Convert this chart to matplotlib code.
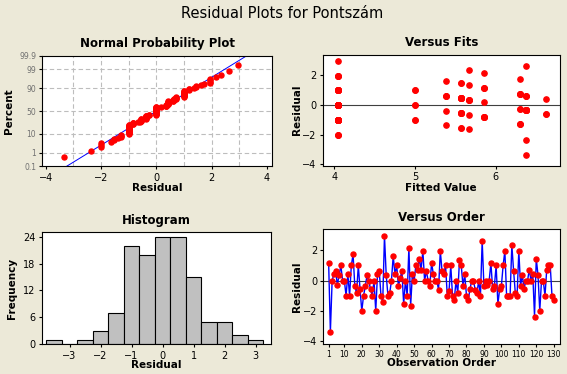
import numpy as np
import matplotlib
matplotlib.use("Agg")
import matplotlib.pyplot as plt
from statistics import NormalDist

# ---------------- data ----------------
residuals = [
    1.17, -3.36, 0.00, 0.44, 0.62, -0.27, 0.35, 1.00, 0.00, 0.00,
    -1.00, 0.44, -1.00, 1.00, 1.73, -0.36, -0.83, 1.00, -0.56, -2.00,
    -1.00, -0.38, 0.35, 0.00, -0.56, -1.00, 0.00, -2.00, 0.44, 0.62,
    -1.00, -1.38, 2.96, 0.35, -1.00, -0.83, 0.00, 1.62, 0.44, 1.00,
    -0.36, 0.17, 0.64, -1.55, 0.00, -1.00, 2.17, -1.65, 0.44, 0.00,
    1.00, 0.73, 1.45, 0.73, 1.96, 0.00, 0.64, 0.00, -0.36, 1.17,
    0.44, 0.00, 0.00, -0.60, 1.96, 0.62, 0.44, 1.00, -1.00, -0.65,
    1.00, -1.00, -1.27, 0.00, -0.83, 1.35, 1.00, -0.36, 0.44, -1.00,
    -1.27, -0.56, 0.00, 0.00, -0.60, -0.83, 0.00, -1.00, 2.64, -0.36,
    0.00, -0.27, 0.00, 1.17, -0.56, -0.36, 1.00, -1.55, -0.56, -0.36,
    1.00, 1.96, -1.00, -1.00, -1.00, 2.35, 0.64, -0.83, -1.00, 1.96,
    -0.36, 0.40, -0.56, 0.00, 0.00, 0.73, 0.00, 0.44, -2.36, 1.45,
    0.35, -2.00, 0.00, 0.00, -1.00, 0.73, 1.00, 1.00, -1.00, -1.27,
]

fitted = [
    5.86, 6.38, 5.00, 5.57, 5.38, 6.30, 5.67, 5.00, 4.04, 4.04,
    5.00, 5.57, 4.04, 4.04, 6.30, 6.38, 5.86, 4.04, 5.57, 4.04,
    4.04, 5.38, 5.67, 4.04, 5.57, 4.04, 4.04, 4.04, 5.57, 5.38,
    4.04, 5.38, 4.04, 5.67, 4.04, 5.86, 4.04, 5.38, 5.57, 4.04,
    6.38, 5.86, 6.38, 5.57, 5.00, 5.00, 5.86, 5.67, 5.57, 4.04,
    5.00, 6.30, 5.57, 6.30, 4.04, 4.04, 6.38, 4.04, 6.38, 5.86,
    5.57, 4.04, 4.04, 6.62, 4.04, 5.38, 5.57, 4.04, 4.04, 5.67,
    4.04, 4.04, 6.30, 4.04, 5.86, 5.67, 4.04, 6.38, 5.57, 4.04,
    6.30, 5.57, 4.04, 4.04, 6.62, 5.86, 4.04, 4.04, 6.38, 6.38,
    4.04, 6.30, 4.04, 5.86, 5.57, 6.38, 4.04, 5.57, 5.57, 6.38,
    4.04, 4.04, 4.04, 4.04, 4.04, 5.67, 6.38, 5.86, 4.04, 4.04,
    6.38, 6.62, 5.57, 4.04, 4.04, 6.30, 4.04, 5.57, 6.38, 5.57,
    5.67, 4.04, 4.04, 4.04, 4.04, 6.30, 4.04, 4.04, 4.04, 6.30,
]

prob_percent_ticks = [0.1, 1, 10, 50, 90, 99, 99.9]
prob_percent_labels = ["0.1", "1", "10", "50", "90", "99", "99.9"]
hist_edges = [-3.75 + 0.5 * k for k in range(15)]
order_ticks = [1, 10, 20, 30, 40, 50, 60, 70, 80, 90, 100, 110, 120, 130]

# ---------------- style ----------------
BG = "#ECE9D8"
RED = "#FF0000"
BLUE = "#0000FF"
W, H = 567, 374
plt.rcParams["font.family"] = ["DejaVu Sans"]
plt.rcParams["axes.linewidth"] = 0.8
plt.rcParams["xtick.major.size"] = 2.5
plt.rcParams["ytick.major.size"] = 2.5
plt.rcParams["xtick.major.width"] = 0.8
plt.rcParams["ytick.major.width"] = 0.8
plt.rcParams["xtick.labelsize"] = 7
plt.rcParams["ytick.labelsize"] = 7
plt.rcParams["xtick.major.pad"] = 2
plt.rcParams["ytick.major.pad"] = 2

fig = plt.figure(figsize=(W / 100, H / 100), dpi=100, facecolor=BG)

BOXES = {}


def axes_px(left, right, top, bottom):
    ax = fig.add_axes([left / W, 1 - bottom / H, (right - left) / W, (bottom - top) / H])
    BOXES[ax] = (left, right, top, bottom)
    return ax


def place_labels(ax, xlabel_y_px, ylabel_x_px):
    left, right, top, bottom = BOXES[ax]
    ax.xaxis.set_label_coords(0.5, (bottom - xlabel_y_px) / (bottom - top))
    ax.yaxis.set_label_coords((ylabel_x_px - left) / (right - left), 0.5)


TITLE_KW = dict(fontsize=8.5, fontweight="bold")
LABEL_KW = dict(fontsize=7.5, fontweight="bold", va="center")

fig.text(282 / W, 1 - 14 / H, "Residual Plots for Pontszám", ha="center", va="center", fontsize=10.5)

res = np.array(residuals)
n = len(res)
nd = NormalDist()

# ---------------- Normal probability plot ----------------
ax1 = axes_px(42.3, 271.7, 55.7, 166.3)
srt = np.sort(res)
pp = (np.arange(1, n + 1) - 0.3) / (n + 0.4)
zs = np.array([nd.inv_cdf(p) for p in pp])
zlim = nd.inv_cdf(0.999)
mu, sd = res.mean(), res.std(ddof=1)
zline = np.array([-zlim, zlim])
ax1.plot(mu + sd * zline, zline, color=BLUE, lw=0.7, zorder=2)
ax1.plot(srt, zs, "o", color=RED, ms=3.6, mec=RED, zorder=3)
ax1.set_xlim(-4.13, 4.18)
ax1.set_ylim(-zlim, zlim)
ax1.set_xticks([-4, -2, 0, 2, 4])
ax1.set_yticks([nd.inv_cdf(p / 100) for p in prob_percent_ticks])
ax1.set_yticklabels(prob_percent_labels, fontsize=5.5, color="#707070")
for xg in [-3, -2, -1, 0, 1, 2, 3]:
    ax1.axvline(xg, color="#BDBDBD", lw=0.8, ls=(0, (4, 2.5)), zorder=1)
for p in prob_percent_ticks[1:-1]:
    ax1.axhline(nd.inv_cdf(p / 100), color="#BDBDBD", lw=0.8, ls=(0, (4, 2.5)), zorder=1)
ax1.set_title("Normal Probability Plot", pad=6, **TITLE_KW)
ax1.set_xlabel("Residual", **LABEL_KW)
ax1.set_ylabel("Percent", **LABEL_KW)
place_labels(ax1, 188, 9)

# ---------------- Versus fits ----------------
ax2 = axes_px(322.7, 559.7, 54.7, 165.7)
ax2.axhline(0, color="#404040", lw=0.8, zorder=1)
ax2.plot(fitted, residuals, "o", color=RED, ms=3.8, mec=RED, zorder=3)
ax2.set_xlim(3.855, 6.793)
ax2.set_ylim(-4.09, 3.39)
ax2.set_xticks([4, 5, 6])
ax2.set_yticks([-4, -2, 0, 2])
ax2.set_title("Versus Fits", pad=6, **TITLE_KW)
ax2.set_xlabel("Fitted Value", **LABEL_KW)
ax2.set_ylabel("Residual", **LABEL_KW)
place_labels(ax2, 188, 297)

# ---------------- Histogram ----------------
ax3 = axes_px(41.7, 271.0, 232.0, 344.3)
ax3.hist(res, bins=hist_edges, color="#C0C0C0", edgecolor="black", linewidth=0.8)
ax3.set_xlim(-3.9, 3.5)
ax3.set_ylim(0, 25.04)
ax3.set_xticks([-3, -2, -1, 0, 1, 2, 3])
ax3.set_yticks([0, 6, 12, 18, 24])
ax3.set_title("Histogram", pad=6, **TITLE_KW)
ax3.set_xlabel("Residual", **LABEL_KW)
ax3.set_ylabel("Frequency", **LABEL_KW)
place_labels(ax3, 365, 12)

# ---------------- Versus order ----------------
ax4 = axes_px(323.3, 560.0, 229.0, 344.0)
obs = np.arange(1, n + 1)
ax4.axhline(0, color="#404040", lw=0.8, zorder=1)
ax4.plot(obs, res, color=BLUE, lw=1.0, zorder=2)
ax4.plot(obs, res, "o", color=RED, ms=3.6, mec=RED, zorder=3)
ax4.set_xlim(-2.06, 133.6)
ax4.set_ylim(-4.17, 3.40)
ax4.set_xticks(order_ticks)
ax4.tick_params(axis="x", labelsize=5.5)
ax4.set_yticks([-4, -2, 0, 2])
ax4.set_title("Versus Order", pad=6, **TITLE_KW)
ax4.set_xlabel("Observation Order", **LABEL_KW)
ax4.set_ylabel("Residual", **LABEL_KW)
place_labels(ax4, 363, 297)

fig.savefig("out.png", dpi=100, facecolor=BG)
